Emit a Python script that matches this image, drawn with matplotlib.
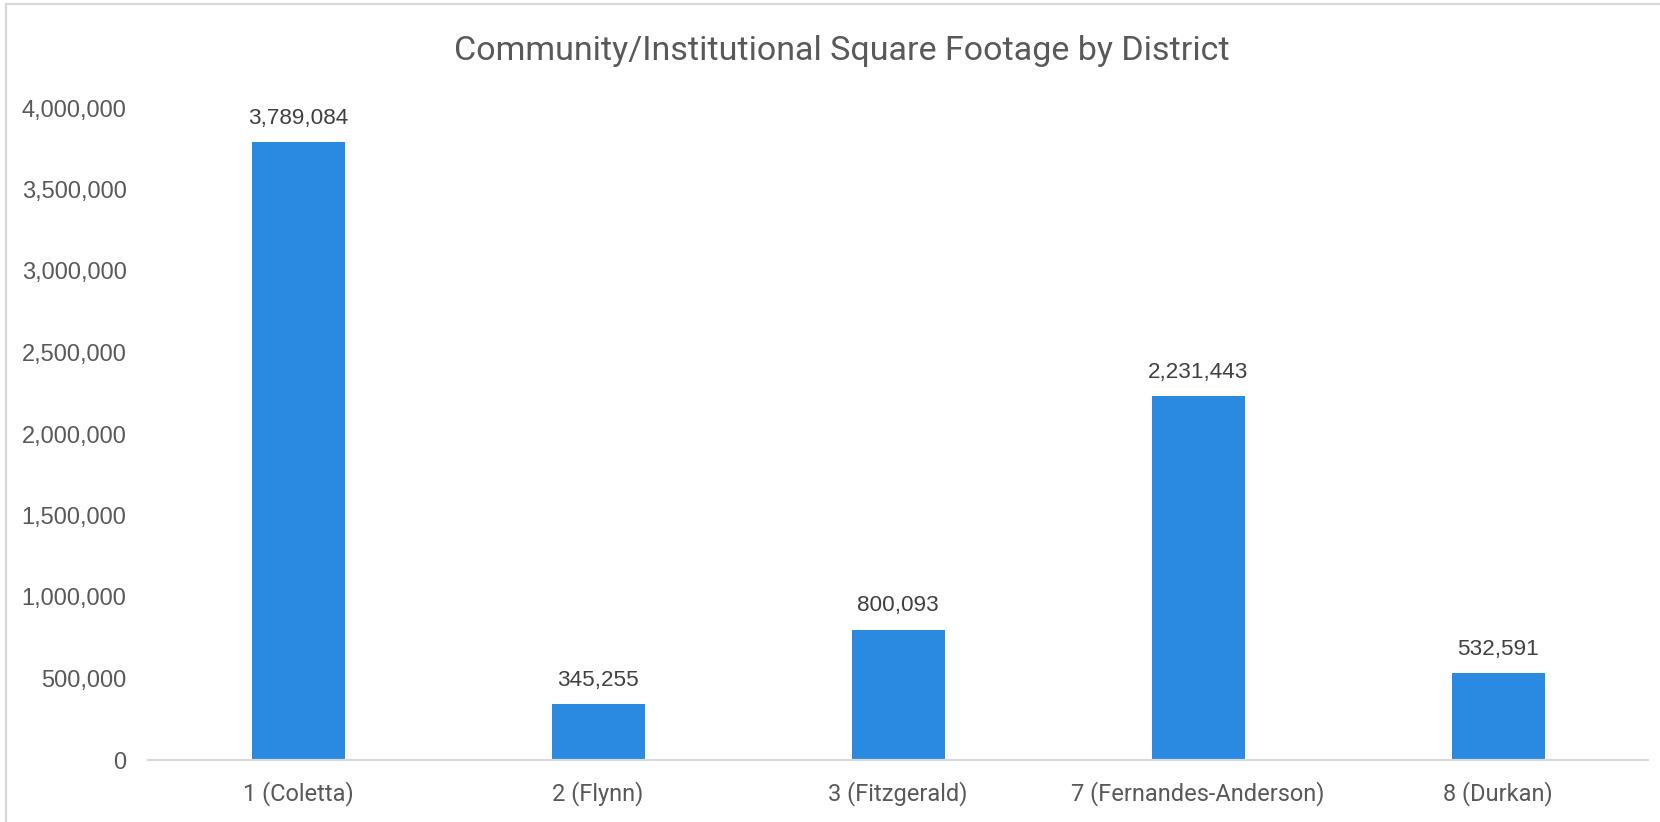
import matplotlib
matplotlib.use("Agg")
import matplotlib.pyplot as plt
from matplotlib.patches import Rectangle
from matplotlib.ticker import FuncFormatter

# data
districts = ["1 (Coletta)", "2 (Flynn)", "3 (Fitzgerald)", "7 (Fernandes-Anderson)", "8 (Durkan)"]
square_feet = [3789084, 345255, 800093, 2231443, 532591]
y_ticks = [0, 500000, 1000000, 1500000, 2000000, 2500000, 3000000, 3500000, 4000000]
title = "Community/Institutional Square Footage by District"

BAR_COLOR = "#2A8AE2"
GRAY_TEXT = "#595959"
LINE_GRAY = "#D9D9D9"
narrow = ["Liberation Sans Narrow", "Roboto", "DejaVu Sans"]
plain = ["Liberation Sans", "DejaVu Sans"]

W, H = 1660, 822
fig = plt.figure(figsize=(W / 100, H / 100), dpi=100)
fig.patch.set_facecolor("white")

# light frame round the chart area (cut off at right and bottom like the screenshot)
fig.patches.append(Rectangle((6 / W, -0.1), 1.2, 1 - 4 / H + 0.1, transform=fig.transFigure,
                             fill=False, edgecolor=LINE_GRAY, linewidth=1.6))

ax = fig.add_axes([148 / W, 62 / H, 1500 / W, 652 / H])
x = range(len(districts))
bars = ax.bar(x, square_feet, width=0.31, color=BAR_COLOR)

ax.set_xlim(-0.5, len(districts) - 0.5)
ax.set_ylim(0, 4000000)
ax.set_yticks(y_ticks)
ax.yaxis.set_major_formatter(FuncFormatter(lambda v, p: f"{int(v):,}"))
ax.set_xticks(list(x))
ax.set_xticklabels(districts)

for s in ["top", "right", "left"]:
    ax.spines[s].set_visible(False)
ax.spines["bottom"].set_color(LINE_GRAY)
ax.spines["bottom"].set_linewidth(1.6)
ax.tick_params(axis="both", length=0)
ax.tick_params(axis="y", pad=15.5, labelsize=17, labelcolor=GRAY_TEXT)
ax.tick_params(axis="x", pad=15.5, labelsize=17, labelcolor=GRAY_TEXT)
for lab in ax.get_yticklabels():
    lab.set_family(plain)
for lab in ax.get_xticklabels():
    lab.set_family(narrow)

for b, v in zip(bars, square_feet):
    ax.annotate(f"{v:,}", (b.get_x() + b.get_width() / 2, v), xytext=(0, 17),
                textcoords="offset points", ha="center", va="center",
                fontsize=16.2, color="#404040", family=plain)

fig.text(842 / W, 1 - 51 / H, title, ha="center", va="center",
         fontsize=24.5, color=GRAY_TEXT, family=narrow)

fig.savefig("out.png", dpi=100, facecolor="white")
